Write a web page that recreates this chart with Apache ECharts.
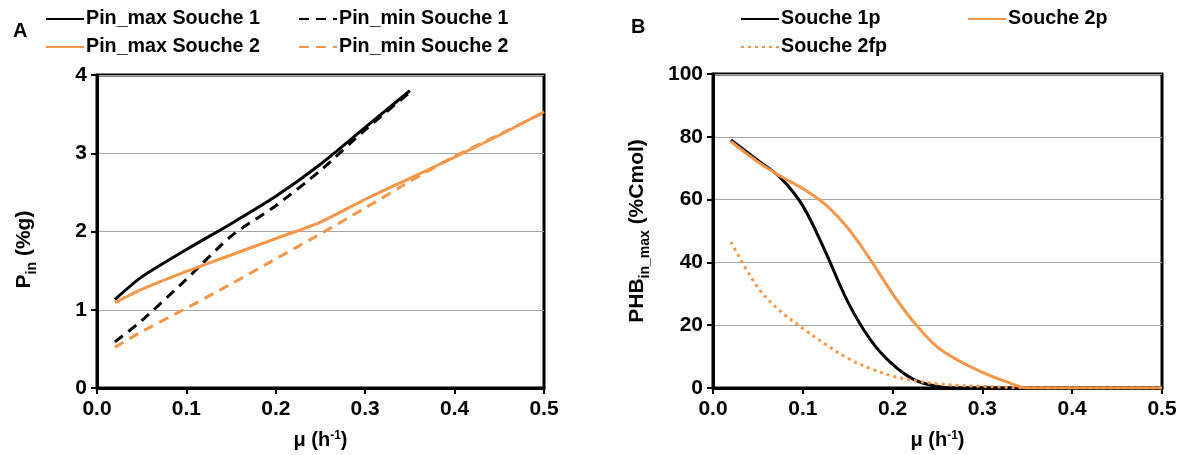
<!DOCTYPE html>
<html>
<head>
<meta charset="utf-8">
<script src="https://cdn.jsdelivr.net/npm/echarts@6/dist/echarts.min.js"></script>
<style>html,body{margin:0;padding:0;background:#fff}#c{width:1180px;height:455px}</style>
</head>
<body>
<div id="c"></div>
<script>
// ---- Panel A data ----
const muMaxS1 = [0.02, 0.05, 0.10, 0.15, 0.20, 0.25, 0.30, 0.35];
const pinMaxS1 = [1.13, 1.42, 1.77, 2.10, 2.45, 2.86, 3.33, 3.80];
const muMinS1 = [0.02, 0.05, 0.10, 0.15, 0.20, 0.25, 0.30, 0.35];
const pinMinS1 = [0.59, 0.86, 1.39, 1.94, 2.33, 2.78, 3.30, 3.78];
const muS2 = [0.02, 0.05, 0.10, 0.15, 0.20, 0.25, 0.30, 0.35, 0.40, 0.45, 0.50];
const pinMaxS2 = [1.09, 1.26, 1.49, 1.70, 1.91, 2.12, 2.41, 2.68, 2.95, 3.23, 3.53];
const pinMinS2 = [0.52, 0.72, 1.02, 1.33, 1.65, 1.97, 2.30, 2.64, 2.96, 3.24, 3.52];
// ---- Panel B data ----
const muB = [0.02, 0.05, 0.075, 0.10, 0.125, 0.15, 0.175, 0.20, 0.225, 0.25, 0.275, 0.30, 0.325, 0.35, 0.40, 0.45, 0.50];
const phbS1p = [79, 72.5, 67, 58, 43.5, 27.5, 15.5, 7.5, 2.5, 0.5, 0, 0, 0, 0, 0, 0, 0];
const phbS2p = [78.5, 72, 67.5, 63.5, 58.5, 51, 41, 30, 20.5, 13, 8.5, 5, 2.2, 0, 0, 0, 0];
const phbS2fp = [46.5, 32, 24.5, 19, 14, 9.5, 6.2, 3.8, 2.3, 1.3, 0.8, 0.5, 0.25, 0.1, 0, 0, 0];
const xTicks = ['0.0', '0.1', '0.2', '0.3', '0.4', '0.5'];

const BLACK = '#000000', ORANGE = '#F79646';
const FONT = 'Liberation Sans, Arial, sans-serif';
const pairs = (xs, ys) => xs.map((x, i) => [x, ys[i]]);

const chart = echarts.init(document.getElementById('c'), null, {renderer: 'canvas'});

function xAxisCfg(gi) {
  return {
    type: 'value', gridIndex: gi, min: 0, max: 0.5, interval: 0.1,
    name: 'μ (h{sup|-1})', nameLocation: 'middle', nameGap: 42,
    nameTextStyle: {color: BLACK, fontFamily: FONT, fontWeight: 'bold', fontSize: 20,
      rich: {sup: {fontSize: 12, fontWeight: 'bold', fontFamily: FONT, verticalAlign: 'top', color: BLACK}}},
    axisLine: {show: true, onZero: false, lineStyle: {color: BLACK, width: 3}},
    axisTick: {show: true, inside: false, length: 6, lineStyle: {color: BLACK, width: 2}},
    axisLabel: {color: BLACK, fontFamily: FONT, fontWeight: 'bold', fontSize: 21, margin: 11,
      formatter: v => xTicks[Math.round(v * 10)]},
    splitLine: {show: false}
  };
}
function yAxisCfg(gi, max, interval, name, gap, pad) {
  return {
    type: 'value', gridIndex: gi, min: 0, max: max, interval: interval,
    name: name, nameLocation: 'middle', nameGap: gap,
    nameTextStyle: {color: BLACK, fontFamily: FONT, fontWeight: 'bold', fontSize: 21, padding: pad,
      rich: {sub: {fontSize: 14, fontWeight: 'bold', fontFamily: FONT, verticalAlign: 'bottom', color: BLACK, lineHeight: 30}}},
    axisLine: {show: true, onZero: false, lineStyle: {color: BLACK, width: 3}},
    axisTick: {show: true, inside: false, length: 6, lineStyle: {color: BLACK, width: 2}},
    axisLabel: {color: BLACK, fontFamily: FONT, fontWeight: 'bold', fontSize: 21, margin: 10},
    splitLine: {show: true, lineStyle: {color: '#a6a6a6', width: 1}}
  };
}

function legendAt(name, left, top) {
  return {
    data: [name], left: left, top: top, padding: 0, itemWidth: 38, itemHeight: 14, itemGap: 0,
    itemStyle: {opacity: 0},
    textStyle: {color: BLACK, fontFamily: FONT, fontWeight: 'bold', fontSize: 19.7, padding: [0, 0, 0, -3]},
    selectedMode: false
  };
}

function lineSeries(name, xi, data, color, type, smooth) {
  return {
    name: name, type: 'line', xAxisIndex: xi, yAxisIndex: xi, data: data,
    showSymbol: false, symbol: 'none', smooth: smooth,
    lineStyle: {color: color, width: 3, type: type},
    itemStyle: {color: color}, z: 3, animation: false
  };
}

const option = {
  animation: false,
  backgroundColor: '#ffffff',
  title: [
    {text: 'A', left: 13, top: 21, padding: 0, textStyle: {color: BLACK, fontFamily: FONT, fontWeight: 'bold', fontSize: 20}},
    {text: 'B', left: 631, top: 17, padding: 0, textStyle: {color: BLACK, fontFamily: FONT, fontWeight: 'bold', fontSize: 20}}
  ],
  grid: [
    {left: 97, right: 636, top: 75, bottom: 65, show: true, borderColor: BLACK, borderWidth: 3, backgroundColor: 'transparent'},
    {left: 713, right: 18, top: 74, bottom: 67, show: true, borderColor: BLACK, borderWidth: 3, backgroundColor: 'transparent'}
  ],
  xAxis: [xAxisCfg(0), xAxisCfg(1)],
  yAxis: [
    yAxisCfg(0, 4, 1, 'P{sub|in} (%g)', 58, [0, 36, 0, 0]),
    yAxisCfg(1, 100, 20, 'PHB{sub|in_max} (%Cmol)', 61, 0)
  ],
  legend: [
    legendAt('Pin_max Souche 1', 45, 9),
    legendAt('Pin_min Souche 1', 298, 9),
    legendAt('Pin_max Souche 2', 45, 37),
    legendAt('Pin_min Souche 2', 298, 37),
    legendAt('Souche 1p', 740, 9),
    legendAt('Souche 2p', 967, 9),
    legendAt('Souche 2fp', 740, 37)
  ],
  series: [
    lineSeries('Pin_max Souche 1', 0, pairs(muMaxS1, pinMaxS1), BLACK, 'solid', 0.25),
    lineSeries('Pin_min Souche 1', 0, pairs(muMinS1, pinMinS1), BLACK, [10, 7], 0.25),
    lineSeries('Pin_max Souche 2', 0, pairs(muS2, pinMaxS2), ORANGE, 'solid', 0.25),
    lineSeries('Pin_min Souche 2', 0, pairs(muS2, pinMinS2), ORANGE, [10, 7], 0.25),
    lineSeries('Souche 1p', 1, pairs(muB, phbS1p), BLACK, 'solid', 0.35),
    lineSeries('Souche 2p', 1, pairs(muB, phbS2p), ORANGE, 'solid', 0.35),
    lineSeries('Souche 2fp', 1, pairs(muB, phbS2fp), ORANGE, [3, 4], 0.35)
  ]
};
chart.setOption(option);
</script>
</body>
</html>
